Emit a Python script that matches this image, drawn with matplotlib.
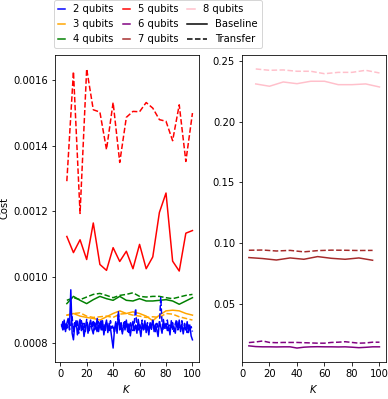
import numpy as np
import matplotlib
matplotlib.use("Agg")
import matplotlib.pyplot as plt
from matplotlib.lines import Line2D
from matplotlib.legend_handler import HandlerLine2D

# ---------------- data ----------------
K_all = list(range(1, 101))
K5 = list(range(5, 101, 5))
K7 = list(range(5, 96, 10))
K8 = list(range(10, 101, 10))

q2_base = [8.55, 8.40, 8.70, 8.35, 8.60, 8.75, 8.45, 9.62, 8.30, 8.10,
           8.55, 8.68, 8.25, 8.50, 8.72, 8.38, 8.60, 8.20, 8.48, 8.65,
           8.30, 8.55, 8.70, 8.42, 8.28, 8.62, 8.50, 8.75, 8.35, 8.58,
           8.40, 8.68, 8.25, 8.52, 8.70, 8.32, 8.60, 8.45, 8.15, 7.85,
           8.40, 8.65, 8.30, 8.90, 8.45, 8.55, 8.28, 8.62, 8.40, 8.70,
           8.35, 8.58, 8.22, 8.50, 8.66, 8.38, 8.55, 8.30, 8.72, 8.45,
           8.20, 8.60, 8.40, 8.68, 8.32, 8.55, 8.25, 8.62, 8.48, 8.70,
           8.35, 8.58, 8.42, 8.20, 8.65, 8.50, 8.30, 8.72, 8.45, 8.60,
           8.38, 8.55, 8.25, 8.68, 8.42, 8.50, 8.30, 8.62, 8.45, 8.70,
           8.35, 8.58, 8.28, 8.52, 8.40, 8.65, 8.32, 8.55, 8.22, 8.10]
q2_trans = [8.50, 8.65, 8.38, 8.58, 8.45, 8.70, 8.40, 8.55, 8.80, 8.35,
            8.62, 8.45, 8.70, 8.30, 8.55, 8.68, 8.42, 8.60, 8.35, 8.72,
            8.50, 8.38, 8.62, 8.45, 8.70, 8.40, 8.55, 8.32, 8.65, 8.48,
            8.72, 8.40, 8.58, 8.35, 8.62, 8.50, 8.38, 8.68, 8.45, 8.55,
            8.30, 8.60, 8.42, 8.95, 8.40, 8.62, 8.35, 8.55, 8.70, 8.45,
            8.58, 8.32, 8.65, 8.48, 8.38, 8.62, 9.05, 8.50, 8.35, 8.60,
            8.45, 8.70, 8.38, 8.55, 8.48, 8.62, 8.35, 8.58, 8.42, 8.68,
            8.50, 8.32, 8.60, 8.45, 8.55, 9.38, 8.62, 8.40, 8.58, 8.45,
            8.70, 8.38, 8.55, 8.48, 8.62, 8.35, 8.58, 8.72, 8.40, 8.55,
            8.45, 8.68, 8.38, 8.60, 8.48, 8.32, 8.55, 8.42, 8.50, 8.35]

q3_base = [8.85, 8.90, 8.82, 8.78, 8.75, 8.70, 8.80, 8.90, 8.98, 8.90,
           8.95, 8.90, 8.82, 8.68, 8.85, 8.98, 9.00, 8.98, 8.90, 8.85]
q3_trans = [8.85, 8.90, 8.92, 8.82, 8.78, 8.80, 8.82, 8.78, 8.88, 8.90,
            8.85, 8.82, 8.78, 8.80, 8.78, 8.90, 8.88, 8.80, 8.75, 8.70]

q4_base = [9.20, 9.42, 9.30, 9.20, 9.32, 9.42, 9.35, 9.30, 9.42, 9.30,
           9.28, 9.35, 9.28, 9.28, 9.30, 9.32, 9.28, 9.18, 9.28, 9.38]
q4_trans = [9.30, 9.38, 9.32, 9.40, 9.48, 9.51, 9.45, 9.38, 9.45, 9.48,
            9.53, 9.42, 9.40, 9.42, 9.42, 9.38, 9.35, 9.40, 9.45, 9.48]

q5_base = [11.24, 10.75, 11.14, 10.54, 11.65, 10.39, 10.21, 10.90, 10.48, 10.79,
           10.26, 11.00, 10.26, 10.62, 11.97, 12.56, 10.49, 10.19, 11.34, 11.42]
q5_trans = [12.92, 16.25, 11.94, 16.33, 15.09, 15.02, 13.88, 15.31, 13.49, 14.86,
            15.04, 15.03, 15.31, 15.14, 14.79, 14.74, 14.15, 15.24, 13.52, 14.99]

q6_base = [0.0158, 0.0152, 0.0150, 0.0150, 0.0149, 0.0150, 0.0150, 0.0140, 0.0147, 0.0150,
           0.0151, 0.0150, 0.0150, 0.0149, 0.0150, 0.0147, 0.0143, 0.0146, 0.0150, 0.0150]
q6_trans = [0.0185, 0.0190, 0.0198, 0.0186, 0.0184, 0.0186, 0.0186, 0.0186, 0.0184, 0.0182,
            0.0180, 0.0180, 0.0186, 0.0188, 0.0192, 0.0186, 0.0180, 0.0182, 0.0188, 0.0188]

q7_base = [0.0883, 0.0875, 0.0863, 0.0880, 0.0869, 0.0891, 0.0877, 0.0869, 0.0880, 0.0861]
q7_trans = [0.0943, 0.0945, 0.0937, 0.0942, 0.0930, 0.0940, 0.0944, 0.0943, 0.0941, 0.0942]

q8_base = [0.2309, 0.2290, 0.2325, 0.2311, 0.2331, 0.2331, 0.2303, 0.2303, 0.2309, 0.2284]
q8_trans = [0.2432, 0.2421, 0.2424, 0.2413, 0.2413, 0.2393, 0.2404, 0.2404, 0.2421, 0.2399]

scale = 1e-4
labels = ["2 qubits", "3 qubits", "4 qubits", "5 qubits", "6 qubits", "7 qubits", "8 qubits"]
colors = ["blue", "orange", "green", "red", "purple", "brown", "pink"]

# ---------------- figure ----------------
DPI = 72
fig = plt.figure(figsize=(388 / DPI, 399 / DPI), dpi=DPI)
W, H = 388, 399
ax1 = fig.add_axes([55 / W, 1 - 362 / H, 144 / W, 307 / H])
ax2 = fig.add_axes([242 / W, 1 - 362 / H, 144 / W, 307 / H])

left_series = [
    (K5, q4_base, q4_trans, colors[2]),
    (K5, q3_base, q3_trans, colors[1]),
    (K_all, q2_base, q2_trans, colors[0]),
    (K5, q5_base, q5_trans, colors[3]),
]
for k, b, t, c in left_series:
    ax1.plot(k, np.array(b) * scale, color=c, ls="-", lw=1.5)
    ax1.plot(k, np.array(t) * scale, color=c, ls="--", lw=1.5)

right_series = [
    (K5, q6_base, q6_trans, colors[4]),
    (K7, q7_base, q7_trans, colors[5]),
    (K8, q8_base, q8_trans, colors[6]),
]
for k, b, t, c in right_series:
    ax2.plot(k, b, color=c, ls="-", lw=1.5)
    ax2.plot(k, t, color=c, ls="--", lw=1.5)

ax1.set_ylabel("Cost")
ax1.set_xlabel("$K$")
ax2.set_xlabel("$K$")
ax1.set_xticks([0, 20, 40, 60, 80, 100])
ax2.set_xticks([0, 20, 40, 60, 80, 100])


class ShortHandler(HandlerLine2D):
    def __init__(self, frac, **kw):
        super().__init__(**kw)
        self.frac = frac

    def legend_artist(self, legend, orig_handle, fontsize, handlebox):
        handlebox.width = handlebox.width * self.frac
        return super().legend_artist(legend, orig_handle, fontsize, handlebox)


color_handles = [Line2D([], [], color=c, lw=1.5) for c in colors]
style_handles = [Line2D([], [], color="black", ls="-", lw=1.5),
                 Line2D([], [], color="black", ls="--", lw=1.5)]
handles = color_handles + style_handles
leg_labels = labels + ["Baseline", "Transfer"]
hmap = {h: ShortHandler(0.36) for h in color_handles}
fig.legend(handles, leg_labels, ncol=3, loc="upper left",
           bbox_to_anchor=(54 / W, 1.0), borderaxespad=0.0,
           columnspacing=0.9, handler_map=hmap)

fig.savefig("out.png", dpi=DPI)
